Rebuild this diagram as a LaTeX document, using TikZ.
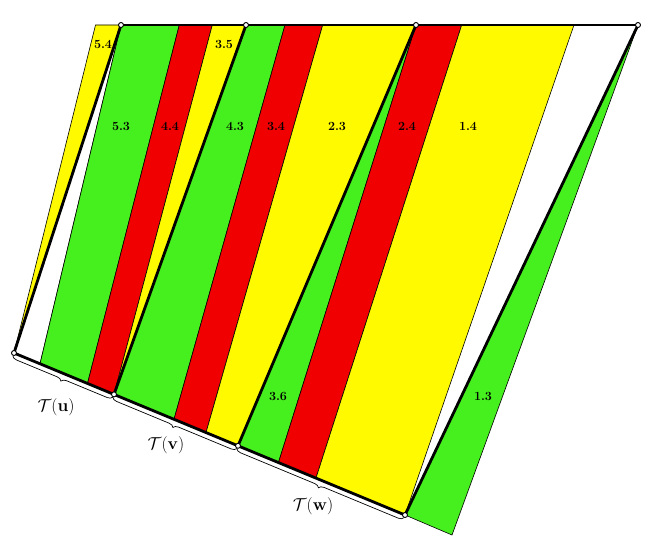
\documentclass[tikz,border=0pt]{standalone}
\usetikzlibrary{decorations.pathreplacing}
\definecolor{cgreen}{RGB}{70,240,30}
\definecolor{cred}{RGB}{240,0,0}
\definecolor{cyellow}{RGB}{255,250,0}
\begin{document}
\begin{tikzpicture}[x=1pt,y=-1pt,
  strip/.style={draw=black,line width=0.6pt,line join=round},
  thickline/.style={line width=2.8pt,line cap=round,line join=round},
  vtx/.style={circle,draw=black,fill=white,inner sep=0pt,minimum size=5pt,line width=0.9pt},
  lbl/.style={font=\fontsize{12.5}{13}\selectfont\bfseries},
  br/.style={decorate,decoration={brace,mirror,amplitude=5pt,raise=3pt},line width=0.7pt},
  blbl/.style={font=\fontsize{16}{18}\selectfont}]
\useasboundingbox (0,0) rectangle (650,551);
% main vertices
\coordinate (A1) at (121,25);
\coordinate (A2) at (246,25);
\coordinate (A3) at (416,25);
\coordinate (A4) at (638,25);
\coordinate (B0) at (14,353);
\coordinate (B1) at (114,394.4);
\coordinate (B2) at (238,445.8);
\coordinate (B3) at (405,515);
% top points
\coordinate (t54) at (95.5,25);
\coordinate (t44) at (179.3,25);
\coordinate (t35) at (212.3,25);
\coordinate (t34) at (285,25);
\coordinate (t23) at (322.7,25);
\coordinate (t14) at (461.7,25);
\coordinate (tw) at (574,25);
% bottom points
\coordinate (b53) at (40,363.8);
\coordinate (b44) at (87.5,383.5);
\coordinate (b34) at (174,419.3);
\coordinate (b23) at (206,432.6);
\coordinate (b24) at (278.5,462.4);
\coordinate (b14) at (316,478);
\coordinate (b13) at (452,535);
% strips
\filldraw[strip,fill=cyellow] (t54) -- (A1) -- (B0) -- cycle;
\draw[strip] (A1) -- (b53);
\filldraw[strip,fill=cgreen] (A1) -- (t44) -- (b44) -- (b53) -- cycle;
\filldraw[strip,fill=cred] (t44) -- (t35) -- (B1) -- (b44) -- cycle;
\filldraw[strip,fill=cyellow] (t35) -- (A2) -- (B1) -- cycle;
\filldraw[strip,fill=cgreen] (A2) -- (t34) -- (b34) -- (B1) -- cycle;
\filldraw[strip,fill=cred] (t34) -- (t23) -- (b23) -- (b34) -- cycle;
\filldraw[strip,fill=cyellow] (t23) -- (A3) -- (B2) -- (b23) -- cycle;
\filldraw[strip,fill=cgreen] (A3) -- (b24) -- (B2) -- cycle;
\filldraw[strip,fill=cred] (A3) -- (t14) -- (b14) -- (b24) -- cycle;
\filldraw[strip,fill=cyellow] (t14) -- (tw) -- (B3) -- (b14) -- cycle;
\filldraw[strip,fill=cgreen] (A4) -- (b13) -- (B3) -- cycle;
% thick lines
\draw[thickline] (A1) -- (A4);
\draw[thickline] (B0) -- (B3);
\draw[thickline] (B0) -- (A1);
\draw[thickline] (B1) -- (A2);
\draw[thickline] (B2) -- (A3);
\draw[thickline] (B3) -- (A4);
% braces
\draw[br] (B0) -- (B1);
\draw[br] (B1) -- (B2);
\draw[br] (B2) -- (B3);
% vertices
\foreach \p in {A1,A2,A3,A4,B0,B1,B2,B3} \node[vtx] (v\p) at (\p) {};
% labels
\node[lbl] (l54) at (103,44) {5.4};
\node[lbl] (l35) at (224,44) {3.5};
\node[lbl] (l53) at (121,126) {5.3};
\node[lbl] (l44) at (170,126) {4.4};
\node[lbl] (l43) at (235,126) {4.3};
\node[lbl] (l34) at (276,126) {3.4};
\node[lbl] (l23) at (337,126) {2.3};
\node[lbl] (l24) at (407,126) {2.4};
\node[lbl] (l14) at (468,126) {1.4};
\node[lbl] (l36) at (278,396) {3.6};
\node[lbl] (l13) at (483,396) {1.3};
\node[blbl] (Tu) at (56,407) {$\mathcal{T}(\mathbf{u})$};
\node[blbl] (Tv) at (166,445) {$\mathcal{T}(\mathbf{v})$};
\node[blbl] (Tw) at (313,506) {$\mathcal{T}(\mathbf{w})$};
\end{tikzpicture}
\end{document}
